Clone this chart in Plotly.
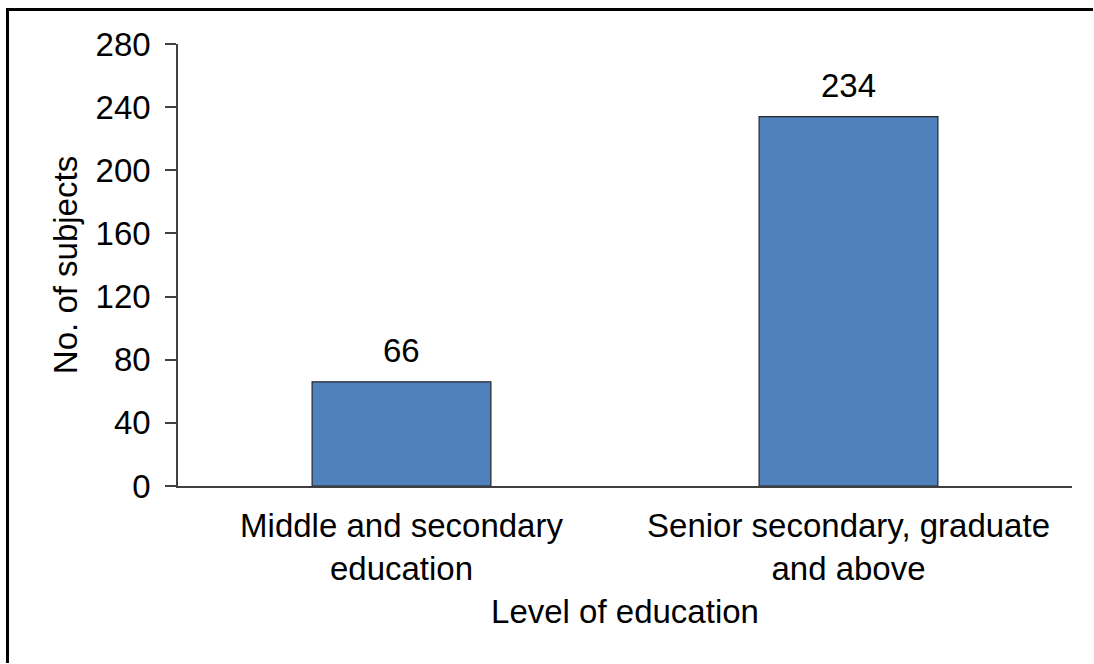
import plotly.graph_objects as go

categories = ["Middle and secondary<br>education", "Senior secondary, graduate<br>and above"]
values = [66, 234]
y_ticks = [0, 40, 80, 120, 160, 200, 240, 280]

W, H = 1094, 664
ML, MR, MT, MB = 178, 22, 44, 178
pw, ph = W - ML - MR, H - MT - MB

FONT = "Liberation Sans, Arial, sans-serif"
FS = 33

fig = go.Figure()
fig.add_trace(go.Bar(
    x=categories, y=values,
    marker=dict(color="#4F81BD", line=dict(color="#262626", width=1.2)),
    width=0.4,
))

for c, v in zip(categories, values):
    fig.add_annotation(x=c, y=v, text=str(v), showarrow=False,
                       yanchor="bottom", yshift=11,
                       font=dict(size=FS, color="black", family=FONT))

# outer frame: top and left edges (pixel positions -> paper coords)
def px_x(p):
    return (p - ML) / pw

def px_y(p):
    return (H - MB - p) / ph

frame = dict(color="black", width=3)
fig.add_shape(type="line", xref="paper", yref="paper",
              x0=px_x(6), x1=px_x(W - 1), y0=px_y(9.5), y1=px_y(9.5), line=frame)
fig.add_shape(type="line", xref="paper", yref="paper",
              x0=px_x(7.5), x1=px_x(7.5), y0=px_y(8), y1=px_y(H - 1), line=frame)

fig.update_layout(
    width=W, height=H,
    margin=dict(l=ML, r=MR, t=MT, b=MB, pad=0),
    plot_bgcolor="white", paper_bgcolor="white",
    font=dict(family=FONT, size=FS, color="black"),
    showlegend=False,
    xaxis=dict(
        showline=True, linecolor="#404040", linewidth=1.5,
        ticks="", showgrid=False, zeroline=False,
        tickfont=dict(size=FS), ticklabelstandoff=10,
        title=dict(text="Level of education", font=dict(size=FS), standoff=14),
    ),
    yaxis=dict(
        range=[0, 280], tickvals=y_ticks,
        showline=True, linecolor="#404040", linewidth=1.5,
        ticks="outside", ticklen=11, tickcolor="#404040", tickwidth=1.5,
        showgrid=False, zeroline=False,
        tickfont=dict(size=FS), ticklabelstandoff=8,
        title=dict(text="No. of subjects", font=dict(size=FS), standoff=8),
    ),
)

fig.write_html("out.html", config={"displayModeBar": False})
